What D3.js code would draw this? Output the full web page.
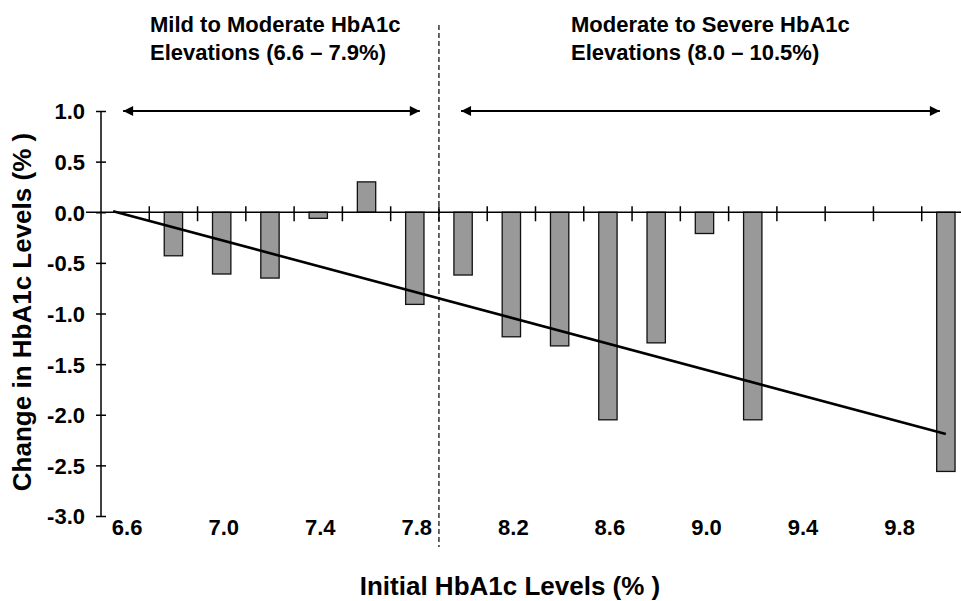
<!DOCTYPE html>
<html>
<head>
<meta charset="utf-8">
<script src="https://cdn.jsdelivr.net/npm/d3@7"></script>
<style>
    body { margin: 0; background: #fff; }
    svg { display: block; font-family: "Liberation Sans", Arial, sans-serif; font-weight: bold; }
</style>
</head>
<body>
<div id="chart"></div>
<script>
// categories on the x axis (initial HbA1c, %)
const categories = ["6.6", "6.8", "7.0", "7.2", "7.4", "7.6", "7.8", "8.0", "8.2",
    "8.4", "8.6", "8.8", "9.0", "9.2", "9.4", "9.6", "9.8", "10.0"];
// change in HbA1c per category (null = no bar)
const changes = [null, -0.43, -0.61, -0.65, -0.06, 0.30, -0.91, -0.62, -1.23,
    -1.32, -2.05, -1.29, -0.21, -2.05, null, null, null, -2.56];
// linear trend end points
const trendCats = ["6.6", "10.0"];
const trendVals = [0.01, -2.19];
const tickLabels = ["6.6", "7.0", "7.4", "7.8", "8.2", "8.6", "9.0", "9.4", "9.8"];
const yTicks = [1.0, 0.5, 0.0, -0.5, -1.0, -1.5, -2.0, -2.5, -3.0];
// range annotations
const ranges = [
    { from: "6.6", to: "7.8", lines: ["Mild to Moderate HbA1c", "Elevations (6.6 \u2013 7.9%)"] },
    { from: "8.0", to: "10.0", lines: ["Moderate to Severe HbA1c", "Elevations (8.0 \u2013 10.5%)"] }
];
const splitAfter = "7.8";

const width = 961, height = 601;

const x = d3.scaleBand()
    .domain(categories)
    .range([101, 970])
    .paddingInner(0.62)
    .paddingOuter(0.31);
const step = x.step();
const cx = c => x(c) + x.bandwidth() / 2;

const y = d3.scaleLinear()
    .domain([-3, 1])
    .range([516, 111]);

const svg = d3.select("#chart").append("svg")
    .attr("width", width)
    .attr("height", height)
    .attr("viewBox", [0, 0, width, height]);

svg.append("rect").attr("width", width).attr("height", height).attr("fill", "#fff");

svg.append("defs").append("marker")
    .attr("id", "head")
    .attr("viewBox", "0 0 10 10")
    .attr("refX", 10).attr("refY", 5)
    .attr("markerWidth", 7).attr("markerHeight", 5)
    .attr("markerUnits", "strokeWidth")
    .attr("orient", "auto-start-reverse")
    .append("path")
    .attr("d", "M0,0L10,5L0,10Z")
    .attr("fill", "#000");

// bars
svg.append("g")
    .selectAll("rect")
    .data(categories.map((c, i) => ({ c, v: changes[i] })).filter(d => d.v !== null))
    .join("rect")
    .attr("x", d => x(d.c))
    .attr("width", x.bandwidth())
    .attr("y", d => y(Math.max(0, d.v)))
    .attr("height", d => Math.abs(y(d.v) - y(0)))
    .attr("fill", "#999999")
    .attr("stroke", "#111")
    .attr("stroke-width", 1.3);

// x axis line at zero with crossing ticks on category boundaries
const y0 = y(0);
svg.append("line")
    .attr("x1", 86).attr("x2", width)
    .attr("y1", y0).attr("y2", y0)
    .attr("stroke", "#000").attr("stroke-width", 1.5);

svg.append("g")
    .selectAll("line")
    .data(categories.slice(1))
    .join("line")
    .attr("x1", d => x(d) - x.paddingInner() * step / 2)
    .attr("x2", d => x(d) - x.paddingInner() * step / 2)
    .attr("y1", y0 - 6).attr("y2", y0 + 9)
    .attr("stroke", "#000").attr("stroke-width", 1.5);

svg.append("g")
    .attr("font-size", 22)
    .attr("text-anchor", "middle")
    .selectAll("text")
    .data(tickLabels)
    .join("text")
    .attr("x", d => cx(d) + 2)
    .attr("y", 535)
    .text(d => d);

// y axis
const fmt = d3.format(".1f");
const yAxis = svg.append("g")
    .attr("transform", "translate(101,0)")
    .call(d3.axisLeft(y).tickValues(yTicks).tickFormat(d => fmt(d).replace("\u2212", "-")).tickSize(5).tickPadding(11));
yAxis.select(".domain").attr("stroke-width", 1.5).attr("d", `M0,${y(1)}V${y(-3)}`);
yAxis.selectAll(".tick line").attr("x2", 5).attr("x1", -5).attr("stroke-width", 1.5);
yAxis.selectAll(".tick text")
    .attr("font-size", 22)
    .attr("font-family", "\"Liberation Sans\", Arial, sans-serif")
    .attr("font-weight", "bold")
    .attr("fill", "#000")
    .attr("dy", "0.36em");

// trend line
svg.append("line")
    .attr("x1", cx(trendCats[0]) - 12).attr("y1", y(trendVals[0]))
    .attr("x2", cx(trendCats[1])).attr("y2", y(trendVals[1]))
    .attr("stroke", "#000").attr("stroke-width", 2.6);

// split line
const splitX = x(splitAfter) + x.bandwidth() + x.paddingInner() * step / 2;
svg.append("line")
    .attr("x1", splitX).attr("x2", splitX)
    .attr("y1", 25).attr("y2", 547)
    .attr("stroke", "#000").attr("stroke-width", 1.2)
    .attr("stroke-dasharray", "5,3");

// range arrows and headings
ranges.forEach((r, i) => {
    svg.append("line")
        .attr("x1", cx(r.from) - 2).attr("x2", cx(r.to) + (i === 0 ? 5 : -6))
        .attr("y1", y(1)).attr("y2", y(1))
        .attr("stroke", "#000").attr("stroke-width", 2)
        .attr("marker-start", "url(#head)")
        .attr("marker-end", "url(#head)");

    svg.append("text")
        .attr("x", i === 0 ? 150 : 571)
        .attr("font-size", 22)
        .selectAll("tspan")
        .data(r.lines)
        .join("tspan")
        .attr("x", i === 0 ? 150 : 571)
        .attr("y", (d, j) => 32 + j * 28)
        .text(d => d);
});

// axis titles
svg.append("text")
    .attr("x", 510).attr("y", 595)
    .attr("text-anchor", "middle")
    .attr("font-size", 26)
    .text("Initial HbA1c Levels (% )");

svg.append("text")
    .attr("transform", "translate(31,312) rotate(-90)")
    .attr("text-anchor", "middle")
    .attr("font-size", 26)
    .text("Change in HbA1c Levels (% )");
</script>
</body>
</html>
